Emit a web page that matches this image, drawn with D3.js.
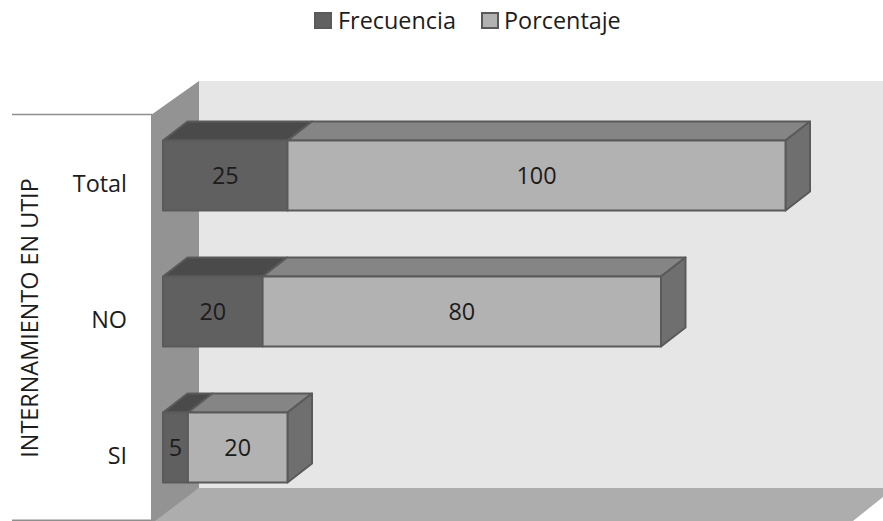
<!DOCTYPE html>
<html>
<head>
<meta charset="utf-8">
<script src="https://cdn.jsdelivr.net/npm/d3@7/dist/d3.min.js"></script>
<style>
html,body{margin:0;padding:0;background:#fff}
svg{display:block}
text{font-family:"Open Sans",sans-serif;fill:#1c1c1c}
</style>
</head>
<body>
<svg id="chart" width="883" height="521"></svg>
<script>
const categories = ["Total", "NO", "SI"];
const frecuencia = [25, 20, 5];
const porcentaje = [100, 80, 20];
const seriesNames = ["Frecuencia", "Porcentaje"];
const axisTitle = "INTERNAMIENTO EN UTIP";
const maxStack = 125;

const seriesStyle = [
  {front: "#606060", top: "#4a4a4a", side: "#4a4a4a", stroke: "#5a5a5a"},
  {front: "#b2b2b2", top: "#858585", side: "#6f6f6f", stroke: "#5a5a5a"}
];

const fontSize = 23.4;
const svg = d3.select("#chart");
const x = d3.scaleLinear().domain([0, maxStack]).range([163, 785.5]);
const y = d3.scaleBand().domain(categories).range([107.5, 515.5]).paddingInner(0.485).paddingOuter(0.2426);
const depth = {dx: 24.5, dy: -19};
const line = pts => "M" + pts.map(p => p.join(",")).join("L") + "Z";

// Chart walls and floor
const room = {left: 151, back: 199, top: 81, frontTop: 115, floor: 488, bottom: 521, right: 883};
const walls = svg.append("g");
walls.append("path")
  .attr("d", line([[room.back, room.top], [room.right, room.top], [room.right, room.floor], [room.back, room.floor]]))
  .attr("fill", "#e6e6e6");
walls.append("path")
  .attr("d", line([[room.back, room.floor], [room.right, room.floor], [room.right, 497], [853, room.bottom], [room.left, room.bottom]]))
  .attr("fill", "#adadad");
walls.append("path")
  .attr("d", line([[room.left, room.frontTop], [room.back, room.top], [room.back, room.floor], [155, 521], [room.left, 521]]))
  .attr("fill", "#939393");
walls.selectAll("line.rule").data([114.5, 520.2]).join("line")
  .attr("class", "rule")
  .attr("x1", 12).attr("x2", room.left + 1)
  .attr("y1", d => d).attr("y2", d => d)
  .attr("stroke", "#8f8f8f").attr("stroke-width", 1.6);

// Category axis
const axis = svg.append("g")
  .attr("transform", "translate(127,0)")
  .call(d3.axisLeft(y).tickSize(0).tickPadding(0));
axis.select(".domain").remove();
axis.selectAll("text")
  .attr("font-size", fontSize)
  .attr("dy", "0.32em")
  .attr("y", 9)
  .attr("x", 0)
  .style("font-family", "'Open Sans',sans-serif")
  .attr("fill", "#1c1c1c");

svg.append("text")
  .attr("transform", "translate(38,318) rotate(-90)")
  .attr("text-anchor", "middle")
  .attr("font-size", fontSize)
  .text(axisTitle);

// Stacked 3D bars, each segment drawn as top, side and front faces
const rows = categories.map((c, i) => ({c, parts: [frecuencia[i], porcentaje[i]]}));
rows.forEach(row => {
  const y0 = y(row.c), y1 = y0 + y.bandwidth();
  let start = 0;
  const g = svg.append("g");
  row.parts.forEach((v, s) => {
    const a = x(start), b = x(start + v), st = seriesStyle[s];
    const face = (pts, fill) => g.append("path")
      .attr("d", line(pts))
      .attr("fill", fill)
      .attr("stroke", st.stroke)
      .attr("stroke-width", 2)
      .attr("stroke-linejoin", "round");
    face([[a, y0], [a + depth.dx, y0 + depth.dy], [b + depth.dx, y0 + depth.dy], [b, y0]], st.top);
    if (s === row.parts.length - 1) {
      face([[b, y0], [b + depth.dx, y0 + depth.dy], [b + depth.dx, y1 + depth.dy], [b, y1]], st.side);
    }
    face([[a, y0], [b, y0], [b, y1], [a, y1]], st.front);
    g.append("text")
      .attr("x", (a + b) / 2)
      .attr("y", (y0 + y1) / 2)
      .attr("dy", "0.35em")
      .attr("text-anchor", "middle")
      .attr("font-size", fontSize)
      .text(v);
    start += v;
  });
});

// Legend
const legendItems = [{x: 315, tx: 338}, {x: 482, tx: 504}];
const legend = svg.append("g");
seriesNames.forEach((name, i) => {
  legend.append("rect")
    .attr("x", legendItems[i].x).attr("y", 13).attr("width", 16).attr("height", 15)
    .attr("fill", seriesStyle[i].front)
    .attr("stroke", "#5a5a5a").attr("stroke-width", 2);
  legend.append("text")
    .attr("x", legendItems[i].tx).attr("y", 28.5)
    .attr("font-size", fontSize)
    .text(name);
});
</script>
</body>
</html>
